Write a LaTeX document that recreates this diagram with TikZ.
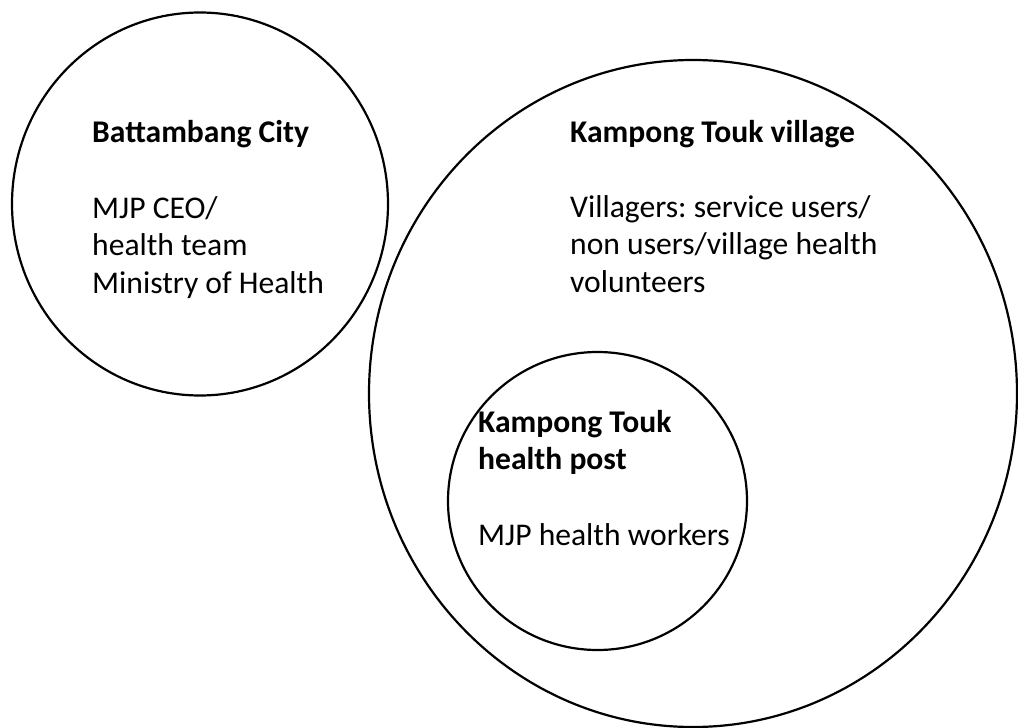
\documentclass[tikz,border=0pt]{standalone}
\usepackage{fontspec}
\setmainfont{Carlito}
\usetikzlibrary{shapes.geometric}
\frenchspacing
\newcommand\stacklines[1]{\vtop{\baselineskip=37.5pt\lineskiplimit=-100pt #1}}
\begin{document}
\begin{tikzpicture}[x=1pt,y=-1pt,
  ring/.style={ellipse, draw=black, line width=2.2pt, inner sep=0pt},
  txt/.style={anchor=base west, inner sep=0pt, font=\fontsize{31.6}{37.5}\selectfont},
  ttl/.style={txt, font=\fontsize{31.6}{37.5}\selectfont\bfseries}]
\useasboundingbox[fill=white] (0,0) rectangle (1018,728);
\node[ring, minimum width=376pt, minimum height=383pt] (city) at (200,204) {};
\node[ring, minimum width=648pt, minimum height=667pt] (village) at (693,393.5) {};
\node[ring, minimum width=299pt, minimum height=298pt] (post) at (597.5,501) {};
\node[ttl] (cityT) at (92,142) {Battambang City};
\node[txt] (cityB) at (92,218) {\stacklines{\hbox{MJP CEO/}\hbox{health team}\hbox{Ministry of Health}}};
\node[ttl] (villT) at (570,142) {Kampong Touk village};
\node[txt] (villB) at (570,217) {\stacklines{\hbox{Villagers: service users/}\hbox{non users/village health}\hbox{volunteers}}};
\node[ttl] (postT) at (478,432) {\stacklines{\hbox{Kampong Touk}\hbox{health post}}};
\node[txt] (postB) at (478,545) {MJP health workers};
\end{tikzpicture}
\end{document}
